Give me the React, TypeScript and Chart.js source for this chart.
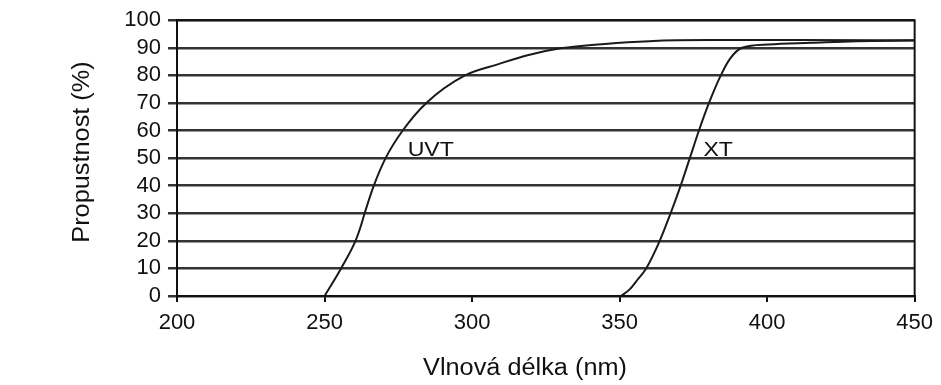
import React, { useEffect, useRef } from 'react';
import { Chart, registerables } from 'chart.js';

Chart.register(...registerables);

// Axis ticks
const xTicks = [200, 250, 300, 350, 400, 450];
const yTicks = [0, 10, 20, 30, 40, 50, 60, 70, 80, 90, 100];

// UVT curve (wavelength nm -> transmission %)
const uvtWavelength = [250, 255.6, 260.5, 262.2, 263.6, 266.7, 270.7, 276.5, 284.5, 297.6, 308.7, 318.8, 330, 345, 360, 380, 410, 450];
const uvtTransmission = [0, 10, 20, 25, 30, 40, 50, 60, 70, 80, 84, 87.3, 89.8, 91.4, 92.4, 92.8, 92.8, 92.7];

// XT curve
const xtWavelength = [350.5, 353.5, 356, 359, 363.6, 367.3, 370.7, 373.8, 376.9, 380.3, 384.3, 387.4, 391.5, 400.5, 415, 430, 450];
const xtTransmission = [0, 2.5, 5.8, 10, 20, 30, 40, 50, 60, 70, 80, 86, 90, 91.2, 91.8, 92.4, 92.6];

// Texts
const xTitle = 'Vlnová délka (nm)';
const yTitle = 'Propustnost (%)';
const curveLabels = ['UVT', 'XT'];
const labelWavelength = [286, 383.4];
const labelTransmission = [53, 53];

const FONT = '"Liberation Sans", Arial, Helvetica, sans-serif';
const INK = '#111';

function drawStretched(ctx: CanvasRenderingContext2D, text: string, x: number, y: number, sx: number, rot = 0) {
  ctx.save();
  ctx.translate(x, y);
  if (rot) ctx.rotate(rot);
  ctx.scale(sx, 1);
  ctx.fillText(text, 0, 0);
  ctx.restore();
}

const overlay = {
  id: 'overlay',
  afterDraw(chart: any) {
    const { ctx, chartArea: a, scales } = chart;
    ctx.save();
    ctx.strokeStyle = INK;
    ctx.lineWidth = 2;
    ctx.strokeRect(a.left, a.top, a.right - a.left, a.bottom - a.top);
    ctx.fillStyle = INK;
    ctx.textAlign = 'center';
    ctx.textBaseline = 'middle';
    ctx.font = `21px ${FONT}`;
    curveLabels.forEach((t, i) => {
      const x = scales.x.getPixelForValue(labelWavelength[i]);
      const y = scales.y.getPixelForValue(labelTransmission[i]);
      drawStretched(ctx, t, x, y, 1.1);
    });
    ctx.font = `23px ${FONT}`;
    drawStretched(ctx, xTitle, 525, 369, 1.1);
    drawStretched(ctx, yTitle, 83, 152, 1.1, -Math.PI / 2);
    ctx.restore();
  },
};

export default function App() {
  const ref = useRef<HTMLCanvasElement | null>(null);

  useEffect(() => {
    if (!ref.current) return;
    const tickFont = { family: FONT, size: 22 };
    const chart = new Chart(ref.current, {
      type: 'scatter',
      data: {
        datasets: [
          {
            label: curveLabels[0],
            data: uvtWavelength.map((x, i) => ({ x, y: uvtTransmission[i] })),
            showLine: true,
            borderColor: '#1a1a1a',
            borderWidth: 2,
            pointRadius: 0,
            fill: false,
            cubicInterpolationMode: 'monotone',
          },
          {
            label: curveLabels[1],
            data: xtWavelength.map((x, i) => ({ x, y: xtTransmission[i] })),
            showLine: true,
            borderColor: '#1a1a1a',
            borderWidth: 2,
            pointRadius: 0,
            fill: false,
            cubicInterpolationMode: 'monotone',
          },
        ],
      },
      options: {
        responsive: false,
        animation: false,
        layout: { padding: { top: 18, right: 21, left: 0, bottom: 0 } },
        plugins: { legend: { display: false }, tooltip: { enabled: false } },
        scales: {
          x: {
            type: 'linear',
            min: xTicks[0],
            max: xTicks[xTicks.length - 1],
            afterBuildTicks: (s: any) => {
              s.ticks = xTicks.map((v) => ({ value: v }));
            },
            afterFit: (s: any) => {
              s.height = 89;
            },
            ticks: { font: tickFont, color: INK, padding: 8, maxRotation: 0, autoSkip: false },
            grid: { drawOnChartArea: false, drawTicks: true, tickLength: 6, color: INK, lineWidth: 2 },
            border: { display: true, color: INK, width: 2 },
          },
          y: {
            type: 'linear',
            min: yTicks[0],
            max: yTicks[yTicks.length - 1],
            afterBuildTicks: (s: any) => {
              s.ticks = yTicks.map((v) => ({ value: v }));
            },
            afterFit: (s: any) => {
              s.width = 177;
            },
            ticks: { font: tickFont, color: INK, padding: 7, autoSkip: false },
            grid: { drawTicks: true, tickLength: 9, color: '#333', lineWidth: 2.5 },
            border: { display: true, color: INK, width: 2 },
          },
        },
      },
      plugins: [overlay],
    } as any);
    return () => chart.destroy();
  }, []);

  return (
    <div style={{ position: 'fixed', left: 0, top: 0, width: 941, height: 385, background: '#fff' }}>
      <canvas ref={ref} width={941} height={385} style={{ display: 'block' }} />
    </div>
  );
}
